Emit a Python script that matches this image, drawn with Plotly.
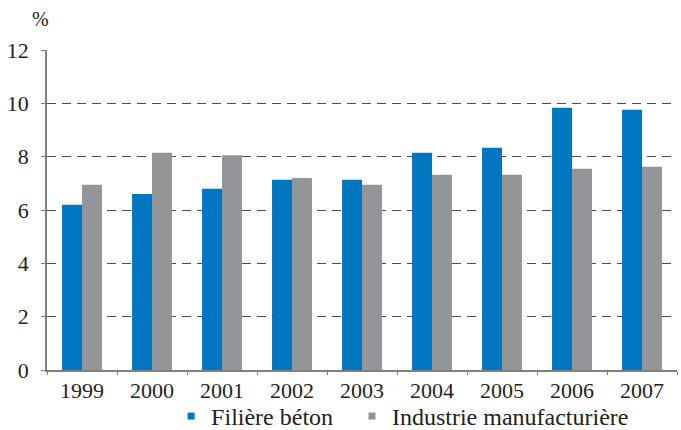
import plotly.graph_objects as go

years = ["1999", "2000", "2001", "2002", "2003", "2004", "2005", "2006", "2007"]
filiere_beton = [6.2, 6.6, 6.8, 7.13, 7.13, 8.15, 8.33, 9.83, 9.76]
industrie_manuf = [6.95, 8.15, 8.05, 7.2, 6.95, 7.32, 7.32, 7.55, 7.62]
y_ticks = [0, 2, 4, 6, 8, 10, 12]
grid_vals = [2, 4, 6, 8, 10]
series_names = ["Filière béton", "Industrie manufacturière"]
series_colors = ["#0077C0", "#939598"]

FF = "Liberation Serif"
TXT = "#231F20"

fig = go.Figure()
for name, vals, col in zip(series_names, [filiere_beton, industrie_manuf], series_colors):
    fig.add_trace(go.Bar(x=years, y=vals, name=name, showlegend=False,
                         marker=dict(color=col, line=dict(width=0))))
for i, (name, col) in enumerate(zip(series_names, series_colors)):
    fig.add_trace(go.Scatter(x=[None], y=[None], mode="markers", name=name,
                             legend="legend" if i == 0 else "legend2",
                             marker=dict(symbol="square", size=7, color=col)))

leg_common = dict(orientation="h", y=-0.075, yanchor="top", xanchor="left",
                  font=dict(family=FF, size=24, color=TXT), itemwidth=30,
                  bgcolor="rgba(0,0,0,0)")

fig.update_layout(
    width=681, height=430,
    margin=dict(l=47, r=4, t=50, b=60, autoexpand=False),
    plot_bgcolor="white", paper_bgcolor="white",
    barmode="group", bargap=0.43, bargroupgap=0,
    font=dict(family=FF, size=22, color=TXT),
    showlegend=True,
    legend=dict(x=0.197, **leg_common),
    legend2=dict(x=0.484, **leg_common),
    xaxis=dict(
        type="category",
        showline=True, linecolor="#808080", linewidth=1.5,
        ticks="outside", tickson="boundaries", ticklen=3, tickcolor="#808080",
        showgrid=False, tickfont=dict(family=FF, size=22, color=TXT),
    ),
    yaxis=dict(
        range=[0, 12], tickvals=y_ticks, showline=True, linecolor="#808080",
        linewidth=1.5, ticks="outside", ticklen=4, tickcolor="#808080",
        ticklabelstandoff=8,
        showgrid=False, zeroline=False, tickfont=dict(family=FF, size=22, color=TXT),
        minor=dict(tickvals=grid_vals, showgrid=True, gridcolor="#4D4D4D",
                   gridwidth=1.2, griddash="9px,6px", ticks=""),
    ),
    annotations=[dict(text="%", xref="paper", yref="paper", x=-0.01, y=1.0,
                      yshift=18, showarrow=False, xanchor="center", yanchor="bottom",
                      font=dict(family=FF, size=20, color=TXT))],
)

fig.write_html("out.html", config={"displayModeBar": False},
               post_script="document.body.style.margin='0';")
